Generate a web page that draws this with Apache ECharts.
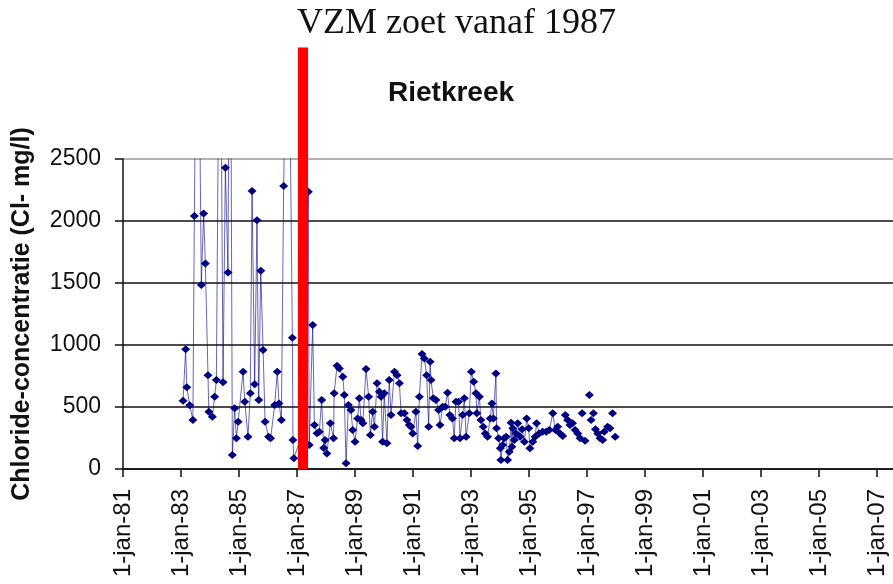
<!DOCTYPE html>
<html>
<head>
<meta charset="utf-8">
<script src="https://cdn.jsdelivr.net/npm/echarts@6/dist/echarts.min.js"></script>
<style>
  html, body { margin: 0; padding: 0; background: #fff; }
  #main { width: 893px; height: 584px; }
</style>
</head>
<body>
<div id="main"></div>
<script>
// meetpunt Rietkreek, chloride in mg/l (jaartal als decimaal)
var years = [
  1983.07, 1983.16, 1983.20, 1983.30, 1983.41, 1983.46, 1983.57, 1983.70, 1983.78, 1983.84,
  1983.93, 1983.96, 1984.08, 1984.16, 1984.22, 1984.34, 1984.45, 1984.53, 1984.62, 1984.69,
  1984.77, 1984.85, 1984.91, 1984.97, 1985.14, 1985.20, 1985.31, 1985.39, 1985.45, 1985.54,
  1985.62, 1985.68, 1985.75, 1985.83, 1985.90, 1986.02, 1986.09, 1986.23, 1986.32, 1986.38,
  1986.46, 1986.54, 1986.69, 1986.84, 1986.86, 1986.89, 1987.20, 1987.39, 1987.42, 1987.54,
  1987.60, 1987.69, 1987.77, 1987.85, 1987.92, 1987.97, 1988.03, 1988.15, 1988.26, 1988.28,
  1988.38, 1988.46, 1988.58, 1988.63, 1988.69, 1988.77, 1988.86, 1988.92, 1989.00, 1989.09,
  1989.15, 1989.21, 1989.27, 1989.38, 1989.47, 1989.53, 1989.61, 1989.67, 1989.76, 1989.84,
  1989.90, 1989.95, 1990.01, 1990.10, 1990.18, 1990.24, 1990.36, 1990.45, 1990.53, 1990.59,
  1990.70, 1990.79, 1990.87, 1990.93, 1990.99, 1991.10, 1991.16, 1991.22, 1991.31, 1991.39,
  1991.47, 1991.54, 1991.59, 1991.62, 1991.70, 1991.79, 1991.88, 1991.93, 1992.02, 1992.11,
  1992.19, 1992.27, 1992.36, 1992.42, 1992.48, 1992.57, 1992.62, 1992.71, 1992.77, 1992.83,
  1992.94, 1993.01, 1993.09, 1993.17, 1993.20, 1993.29, 1993.34, 1993.42, 1993.49, 1993.57,
  1993.66, 1993.72, 1993.77, 1993.86, 1993.88, 1993.95, 1994.01, 1994.03, 1994.09, 1994.14,
  1994.21, 1994.26, 1994.32, 1994.38, 1994.41, 1994.44, 1994.49, 1994.55, 1994.61, 1994.69,
  1994.76, 1994.84, 1994.92, 1994.99, 1995.03, 1995.13, 1995.21, 1995.26, 1995.35, 1995.47,
  1995.59, 1995.70, 1995.82, 1995.91, 1995.99
];
var chloride = [
  550, 965, 660, 515, 395, 2040, 4800, 1483, 2061, 1658,
  757, 462, 422, 583, 717, 4500, 699, 2429, 1585, 5000,
  113, 489, 247, 381, 784, 542, 260, 610, 2241, 683,
  2007, 556, 1598, 959, 381, 260, 247, 516, 784, 529,
  395, 2283, 4500, 1058, 234, 86, 300, 2235, 193, 1161,
  355, 288, 301, 556, 169, 234, 126, 368, 247, 610,
  833, 811, 744, 596, 46, 516, 476, 314, 220, 408,
  570, 395, 368, 806, 583, 274, 462, 341, 691, 623,
  583, 220, 610, 207, 717, 435, 784, 757, 691, 449,
  449, 395, 355, 341, 287, 462, 185, 583, 927, 892,
  757, 341, 865, 717, 570, 556, 476, 355, 502, 502,
  615, 435, 408, 247, 542, 542, 247, 435, 570, 260,
  449, 784, 704, 610, 449, 583, 395, 341, 287, 260,
  408, 529, 408, 771, 328, 247, 167, 73, 193, 247,
  260, 73, 140, 373, 180, 328, 234, 287, 368, 260,
  320, 220, 408, 328, 167, 220, 260, 368, 287, 301,
  301, 314, 449, 314, 341
];
// losse metingen 1996-1998 (niet verbonden)
var lateYears = [
  1996.07, 1996.16, 1996.25, 1996.33, 1996.41, 1996.50, 1996.59, 1996.68, 1996.76, 1996.83,
  1996.93, 1997.08, 1997.14, 1997.22, 1997.29, 1997.37, 1997.45, 1997.54, 1997.59, 1997.71,
  1997.79, 1997.88, 1997.97
];
var lateChloride = [
  287, 266, 435, 395, 355, 368, 314, 287, 247, 449,
  228, 596, 395, 449, 320, 287, 247, 234, 301, 341,
  328, 449, 260
];
var tickYears = [1981, 1983, 1985, 1987, 1989, 1991, 1993, 1995, 1997, 1999, 2001, 2003, 2005, 2007];
var yTicks = [0, 500, 1000, 1500, 2000, 2500];
// rode balk: VZM zoet vanaf 1987
var freshStart = 1987.03;
var freshEnd = 1987.38;
var freshTop = 3400;

var navy = "#000080";
var mainData = [];
for (var i = 0; i < years.length; i++) {
  mainData.push([years[i], chloride[i]]);
}
var lateData = [];
for (var j = 0; j < lateYears.length; j++) {
  lateData.push([lateYears[j], lateChloride[j]]);
}

var myChart = echarts.init(document.getElementById("main"));
myChart.setOption({
  animation: false,
  backgroundColor: "#fff",
  graphic: [
    {
      type: "text",
      left: 297,
      top: 6,
      style: {
        text: "VZM zoet vanaf 1987",
        font: "36px 'Liberation Serif', 'Times New Roman', serif",
        fill: "#111"
      }
    },
    {
      type: "text",
      left: 388,
      top: 79,
      style: {
        text: "Rietkreek",
        font: "bold 28px 'Liberation Sans', Arial, sans-serif",
        fill: "#111"
      }
    }
  ],
  grid: {
    left: 123,
    right: 0,
    top: 159,
    bottom: 115
  },
  xAxis: {
    type: "value",
    min: 1981,
    max: 2007.55,
    axisLine: { show: true, onZero: false, lineStyle: { color: "#111", width: 1.5 } },
    axisTick: { show: true, length: 8, customValues: tickYears, lineStyle: { color: "#111", width: 1.5 } },
    axisLabel: {
      customValues: tickYears,
      rotate: 90,
      margin: 20,
      fontFamily: "'Liberation Sans', Arial, sans-serif",
      fontSize: 24,
      color: "#111",
      formatter: function (v) {
        return "1-jan-" + String(Math.round(v)).slice(2);
      }
    },
    splitLine: { show: false }
  },
  yAxis: {
    type: "value",
    min: 0,
    max: 2500,
    interval: 500,
    name: "Chloride-concentratie (Cl- mg/l)",
    nameLocation: "middle",
    nameGap: 88,
    nameTextStyle: {
      fontFamily: "'Liberation Sans', Arial, sans-serif",
      fontWeight: "bold",
      fontSize: 25,
      color: "#111"
    },
    axisLine: { show: true, lineStyle: { color: "#111", width: 1.5 } },
    axisTick: { show: true, length: 8, lineStyle: { color: "#111", width: 1.5 } },
    axisLabel: {
      margin: 22,
      fontFamily: "'Liberation Sans', Arial, sans-serif",
      fontSize: 23,
      color: "#111",
      customValues: yTicks,
      formatter: function (v) {
        return String(v);
      }
    },
    splitLine: {
      show: true,
      lineStyle: { color: ["#111", "#111", "#111", "#111", "#111", "#999"], width: 1.5 }
    }
  },
  series: [
    {
      name: "Rietkreek",
      type: "line",
      data: mainData,
      symbol: "diamond",
      symbolSize: [9, 8],
      itemStyle: { color: navy },
      lineStyle: { color: navy, width: 1, opacity: 0.6 },
      z: 2
    },
    {
      name: "Rietkreek los",
      type: "scatter",
      data: lateData,
      symbol: "diamond",
      symbolSize: [9, 8],
      itemStyle: { color: navy, opacity: 1 },
      z: 2
    },
    {
      name: "zoet",
      type: "custom",
      data: [[freshStart, freshEnd, freshTop]],
      clip: false,
      z: 5,
      renderItem: function (params, api) {
        var p0 = api.coord([api.value(0), 0]);
        var p1 = api.coord([api.value(1), api.value(2)]);
        return {
          type: "rect",
          shape: { x: p0[0], y: p1[1], width: p1[0] - p0[0], height: p0[1] - p1[1] },
          style: { fill: "#ff0000" }
        };
      }
    }
  ]
});
</script>
</body>
</html>
